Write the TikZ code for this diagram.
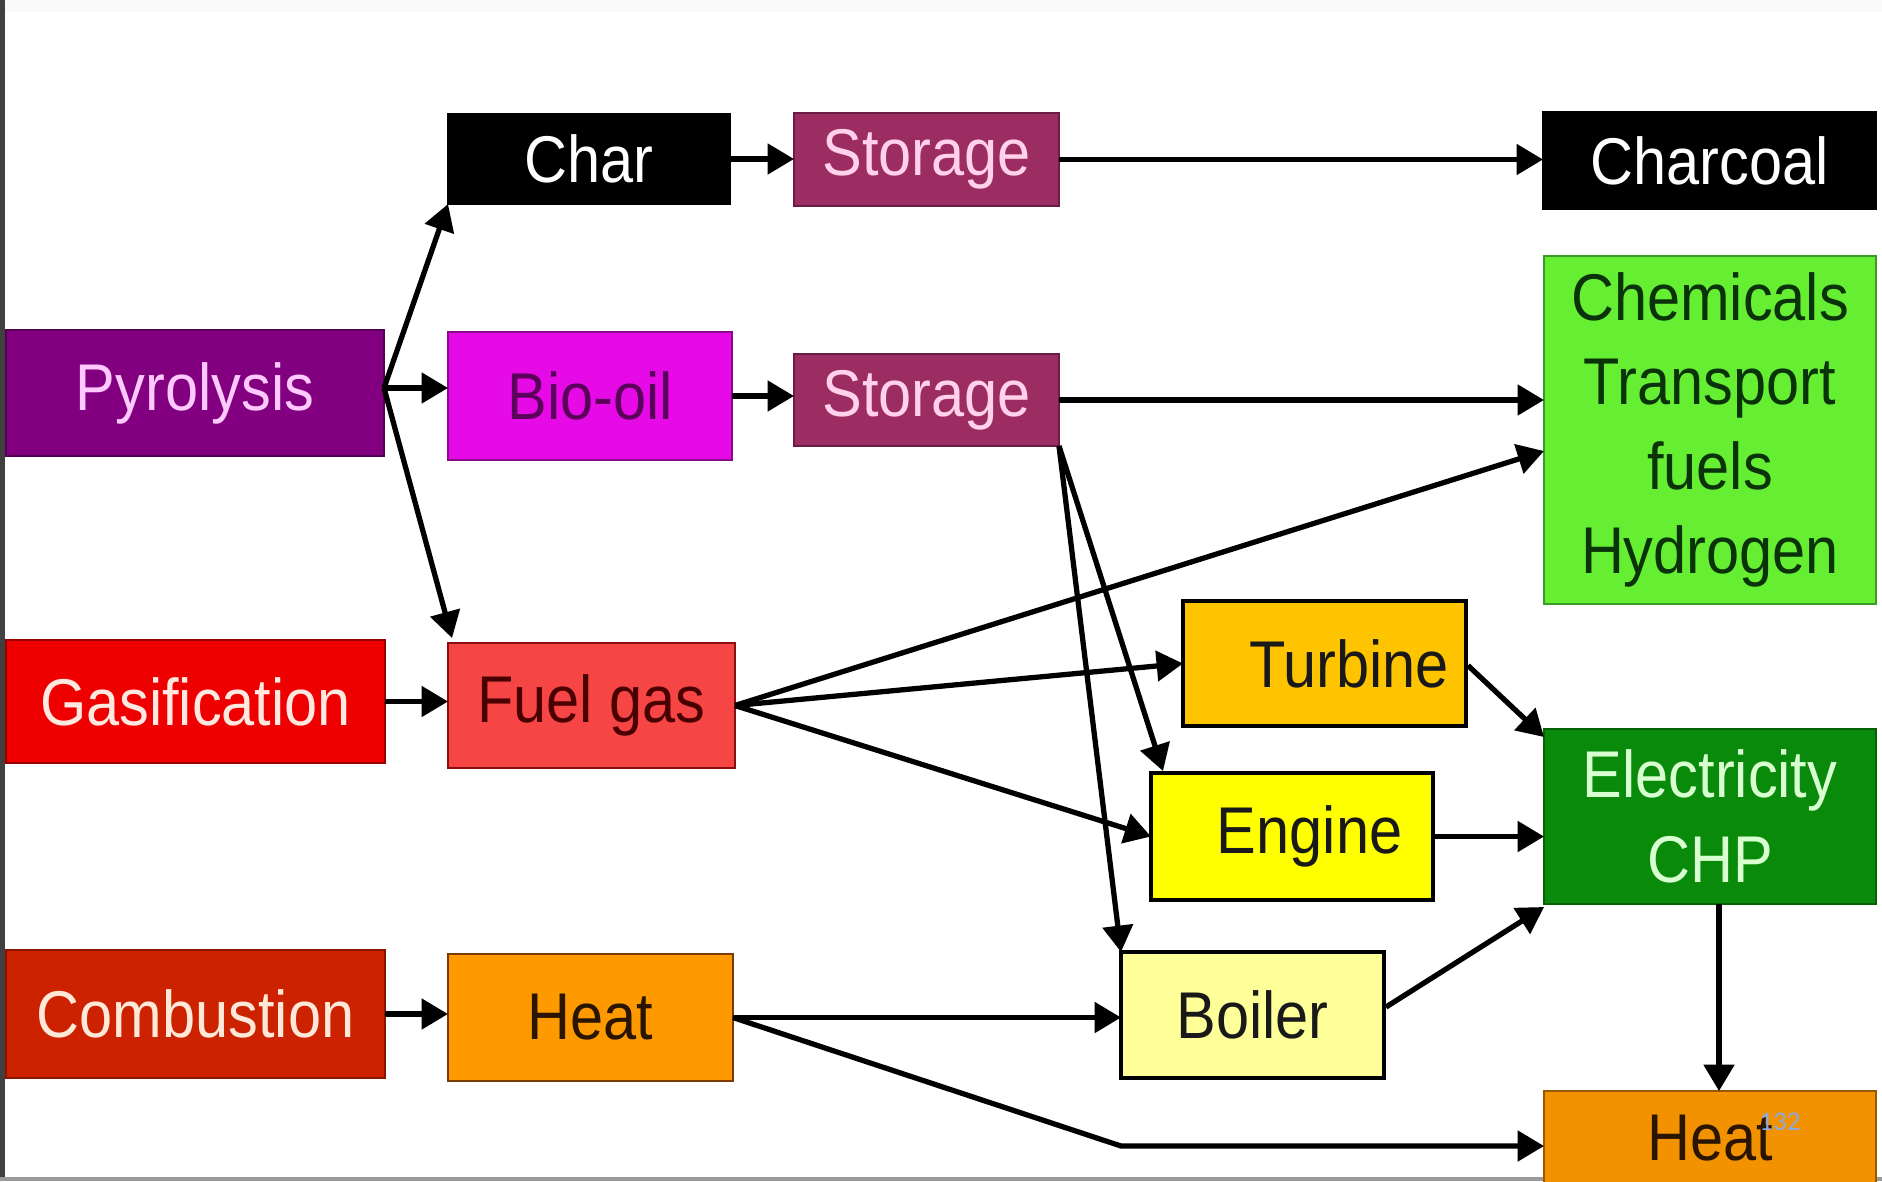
\documentclass[tikz,border=0pt]{standalone}
\usepackage{fontspec}
\setmainfont{Liberation Sans}[FakeStretch=0.9]
\newfontfamily\pgnumfont{Carlito}
\usetikzlibrary{arrows.meta,calc}
\definecolor{cStor}{HTML}{9C2D62}\definecolor{cStorD}{HTML}{6A1C42}\definecolor{cStorT}{HTML}{FFD1EA}
\definecolor{cPyro}{HTML}{82007F}\definecolor{cPyroD}{HTML}{560054}\definecolor{cPyroT}{HTML}{FFC8FF}
\definecolor{cBio}{HTML}{E60AE6}\definecolor{cBioD}{HTML}{8A0A8A}\definecolor{cBioT}{HTML}{5A005A}
\definecolor{cChem}{HTML}{66EE33}\definecolor{cChemD}{HTML}{3C9A28}\definecolor{cChemT}{HTML}{0A330A}
\definecolor{cGas}{HTML}{EE0000}\definecolor{cGasD}{HTML}{990000}\definecolor{cGasT}{HTML}{FFE8E0}
\definecolor{cFuel}{HTML}{F54545}\definecolor{cFuelD}{HTML}{8A1010}\definecolor{cFuelT}{HTML}{4A0000}
\definecolor{cComb}{HTML}{CC2200}\definecolor{cCombD}{HTML}{881500}\definecolor{cCombT}{HTML}{FFE8D8}
\definecolor{cHeat}{HTML}{FF9900}\definecolor{cHeatD}{HTML}{7A3A00}\definecolor{cHeatT}{HTML}{2A1500}
\definecolor{cTurb}{HTML}{FFC400}
\definecolor{cEng}{HTML}{FFFF00}
\definecolor{cBoil}{HTML}{FFFF99}
\definecolor{cElec}{HTML}{0A8A0A}\definecolor{cElecD}{HTML}{066006}\definecolor{cElecT}{HTML}{D8FFD0}
\definecolor{cHeatR}{HTML}{F39200}\definecolor{cHeatRD}{HTML}{9A5800}
\definecolor{cPage}{HTML}{8EA9DB}
\newcommand\mkbox[7]{\node[bx,#6,minimum width={(#4-#2)*0.01cm},minimum height={(#5-#3)*0.01cm}] (#1) at ({(#2+#4)/2},{(#3+#5)/2}) {#7};}
\tikzset{
  bx/.style={rectangle, inner sep=0pt, outer sep=0pt, line width=0.8pt, align=center,
             font=\fontsize{18.8}{24}\selectfont},
  arr/.style={line width=1.5pt, draw=black, -{Triangle[length=7.5pt,width=8.5pt]}},
  blackbox/.style={fill=black, draw=black, text=white},
  storbox/.style={fill=cStor, draw=cStorD, text=cStorT},
  pyrobox/.style={fill=cPyro, draw=cPyroD, text=cPyroT},
  biobox/.style={fill=cBio, draw=cBioD, text=cBioT},
  chembox/.style={fill=cChem, draw=cChemD, text=cChemT},
  gasbox/.style={fill=cGas, draw=cGasD, text=cGasT},
  fuelbox/.style={fill=cFuel, draw=cFuelD, text=cFuelT},
  combbox/.style={fill=cComb, draw=cCombD, text=cCombT},
  heatbox/.style={fill=cHeat, draw=cHeatD, text=cHeatT},
  turbbox/.style={fill=cTurb, draw=black, line width=1.1pt, text=black!90},
  engbox/.style={fill=cEng, draw=black, line width=1.1pt, text=black!90},
  boilbox/.style={fill=cBoil, draw=black, line width=1.1pt, text=black!90},
  elecbox/.style={fill=cElec, draw=cElecD, text=cElecT},
  heatrbox/.style={fill=cHeatR, draw=cHeatRD, text=cHeatT},
}
\begin{document}
\begin{tikzpicture}[x=0.01cm,y=-0.01cm]
\useasboundingbox (0,0) rectangle (1882,1181);
\clip (0,0) rectangle (1882,1181);
\fill[white] (0,0) rectangle (1882,1181);
\fill[black!2] (0,0) rectangle (1882,12);
\fill[black!75] (0,0) rectangle (5,1181);
\fill[black!40] (0,1177) rectangle (1882,1181);
% boxes
\mkbox{char}{448}{114}{730}{204}{blackbox}{Char}
\mkbox{st1}{794}{113}{1059}{206}{storbox}{Storage}
\mkbox{charcoal}{1543}{112}{1876}{209}{blackbox}{Charcoal}
\mkbox{pyro}{6}{330}{384}{456}{pyrobox}{Pyrolysis}
\mkbox{bio}{448}{332}{732}{460}{biobox}{Bio-oil}
\mkbox{st2}{794}{354}{1059}{446}{storbox}{Storage}
\mkbox{chem}{1544}{256}{1876}{604}{chembox}{Chemicals\\Transport\\fuels\\Hydrogen}
\mkbox{gas}{6}{640}{385}{763}{gasbox}{Gasification}
\mkbox{fuel}{448}{643}{735}{768}{fuelbox}{Fuel gas}
\mkbox{comb}{6}{950}{385}{1078}{combbox}{Combustion}
\mkbox{heat}{448}{954}{733}{1081}{heatbox}{Heat}
\mkbox{turb}{1183}{601}{1466}{726}{turbbox}{\hspace*{14pt}Turbine}
\mkbox{eng}{1151}{773}{1433}{900}{engbox}{\hspace*{10pt}Engine}
\mkbox{boil}{1121}{952}{1384}{1078}{boilbox}{Boiler}
\mkbox{elec}{1544}{729}{1876}{904}{elecbox}{Electricity\\CHP}
\mkbox{heatr}{1544}{1091}{1876}{1186}{heatrbox}{Heat}
\node[font=\pgnumfont\fontsize{7.7}{9}\selectfont, text=cPage, inner sep=0pt] (pg) at (1780,1122) {132};
% connectors
\coordinate (ps) at ($(pyro.east)+(0,-5)$);
\draw[arr] (ps) -- (char.south west);
\draw[arr] (ps) -- (bio.west |- ps);
\draw[arr] (ps) -- ($(fuel.north west)+(4,-5)$);
\draw[arr] (char.east) -- (st1.west |- char.east);
\draw[arr] (bio.east) -- (st2.west |- bio.east);
\draw[arr] (st1.east) -- (charcoal.west |- st1.east);
\draw[arr] (st2.east) -- (chem.west |- st2.east);
\draw[arr] (st2.south east) -- ($(eng.north west)+(12,-2)$);
\draw[arr] (st2.south east) -- (boil.north west);
\draw[arr] (gas.east) -- (fuel.west |- gas.east);
\draw[arr] (fuel.east) -- ($(chem.west)+(0,21)$);
\draw[arr] (fuel.east) -- (turb.west);
\draw[arr] (fuel.east) -- (eng.west);
\draw[arr] (comb.east) -- (heat.west |- comb.east);
\draw[arr] (heat.east) -- (boil.west |- heat.east);
\coordinate (bend) at (1121,1146);
\draw[arr] (heat.east) -- (bend) -- (heatr.west |- bend);
\draw[arr] ($(turb.east)+(2,2)$) -- ($(elec.north west)+(0,8)$);
\draw[arr] (eng.east) -- (elec.west |- eng.east);
\draw[arr] ($(boil.east)+(2,-8)$) -- ($(elec.south west)+(0,3)$);
\coordinate (ed) at ($(elec.south)+(9,0)$);
\draw[arr] (ed) -- (ed |- heatr.north);
\end{tikzpicture}
\end{document}
